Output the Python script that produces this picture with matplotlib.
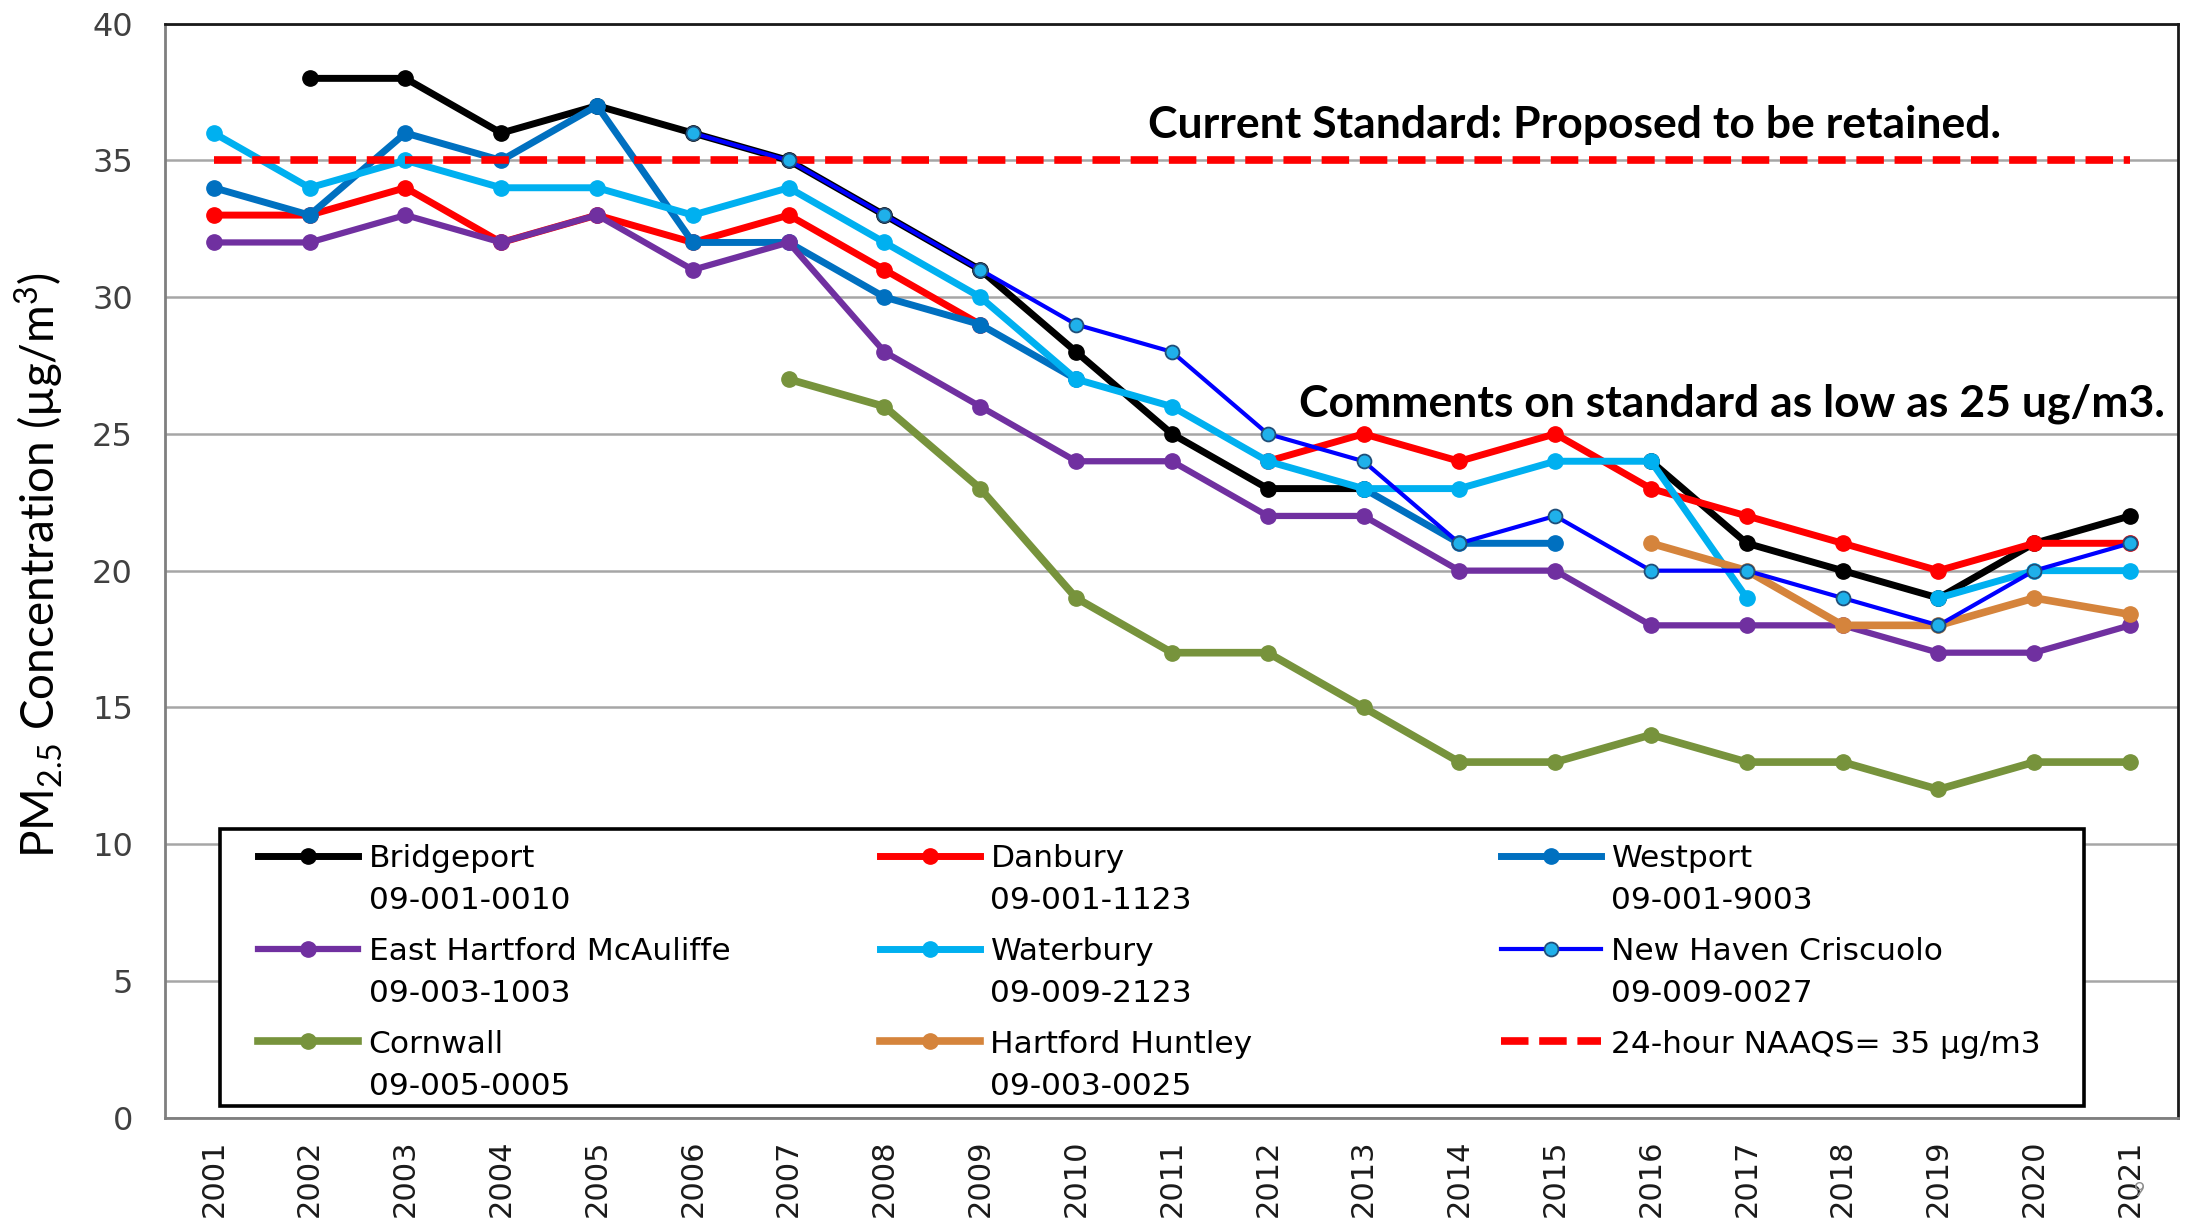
import matplotlib
matplotlib.use("Agg")
import matplotlib.pyplot as plt
import matplotlib.patches as patches
from matplotlib.legend_handler import HandlerLine2D
from matplotlib.lines import Line2D
from matplotlib.transforms import Affine2D
import numpy as np

plt.rcParams["mathtext.default"] = "regular"

nan = np.nan
years = list(range(2001, 2022))

# valeurs (µg/m3), nan = pas de donnée
bridgeport = [nan, 38, 38, 36, 37, 36, 35, 33, 31, 28, 25, 23, 23, nan, nan, 24, 21, 20, 19, 21, 22]
danbury = [33, 33, 34, 32, 33, 32, 33, 31, 29, nan, nan, 24, 25, 24, 25, 23, 22, 21, 20, 21, 21]
westport = [34, 33, 36, 35, 37, 32, 32, 30, 29, 27, nan, nan, 23, 21, 21, nan, nan, nan, nan, nan, nan]
east_hartford = [32, 32, 33, 32, 33, 31, 32, 28, 26, 24, 24, 22, 22, 20, 20, 18, 18, 18, 17, 17, 18]
waterbury = [36, 34, 35, 34, 34, 33, 34, 32, 30, 27, 26, 24, 23, 23, 24, 24, 19, nan, 19, 20, 20]
new_haven = [nan, nan, nan, nan, nan, 36, 35, 33, 31, 29, 28, 25, 24, 21, 22, 20, 20, 19, 18, 20, 21]
cornwall = [nan, nan, nan, nan, nan, nan, 27, 26, 23, 19, 17, 17, 15, 13, 13, 14, 13, 13, 12, 13, 13]
hartford_huntley = [nan] * 15 + [21, 20, 18, 18, 19, 18.4]
naaqs_level = 35

names = ["Bridgeport\n09-001-0010", "Danbury\n09-001-1123", "Westport\n09-001-9003",
         "East Hartford McAuliffe\n09-003-1003", "Waterbury\n09-009-2123",
         "New Haven Criscuolo\n09-009-0027", "Cornwall\n09-005-0005",
         "Hartford Huntley\n09-003-0025", "24-hour NAAQS= 35 µg/m3\n"]


class UpLine(HandlerLine2D):
    """Poignée alignée sur la première ligne du libellé."""
    def __init__(self, dy, **kw):
        super().__init__(**kw)
        self.dy = dy

    def create_artists(self, legend, orig_handle, xdescent, ydescent, width,
                       height, fontsize, trans):
        trans = Affine2D().translate(0, self.dy) + trans
        return super().create_artists(legend, orig_handle, xdescent, ydescent,
                                      width, height, fontsize, trans)


fig = plt.figure(figsize=(21.96, 12.26), dpi=100)
ax = fig.add_axes([0.0751, 0.0884, 0.9167, 0.8923])

lw = 5
ms = 11
h = {}
h["bridgeport"], = ax.plot(years, bridgeport, color="black", lw=lw, marker="o", ms=ms)
h["danbury"], = ax.plot(years, danbury, color="#FF0000", lw=lw, marker="o", ms=ms)
h["westport"], = ax.plot(years, westport, color="#0070C0", lw=lw, marker="o", ms=ms)
h["east"], = ax.plot(years, east_hartford, color="#7030A0", lw=lw - 0.5, marker="o", ms=ms)
h["waterbury"], = ax.plot(years, waterbury, color="#00B0F0", lw=lw, marker="o", ms=ms)
h["cornwall"], = ax.plot(years, cornwall, color="#77933C", lw=lw + 0.5, marker="o", ms=ms)
h["huntley"], = ax.plot(years, hartford_huntley, color="#D5843C", lw=lw + 0.5, marker="o", ms=ms)
h["naaqs"], = ax.plot([years[0], years[-1]], [naaqs_level, naaqs_level], color="#FF0000",
                      lw=5.5, dashes=(3.6, 1.4), zorder=2.2)
h["newhaven"], = ax.plot(years, new_haven, color="#0000FF", lw=3, marker="o", ms=ms - 1,
                         mfc="#1FB0EA", mec="#1F4E79", mew=1.3, zorder=2.4)

ax.set_xlim(2000.49, 2021.5)
ax.set_ylim(0, 40)
ax.set_xticks(years)
ax.set_xticklabels([str(y) for y in years], rotation=90, fontsize=22, color="#1a1a1a")
ax.set_yticks(range(0, 41, 5))
ax.tick_params(axis="y", length=0, pad=23, labelsize=23, labelcolor="#404040")
ax.tick_params(axis="x", length=0, pad=16)
ax.yaxis.grid(True, color="#a6a6a6", lw=1.8)
ax.set_axisbelow(True)
for side in ["left", "bottom"]:
    ax.spines[side].set_color("#7f7f7f")
    ax.spines[side].set_linewidth(2)
for side in ["top", "right"]:
    ax.spines[side].set_color("#1a1a1a")
    ax.spines[side].set_linewidth(2)

ax.set_ylabel(r"PM$_{2.5}$ Concentration (µg/m$^3$)", family="Lato", fontsize=33)
ax.yaxis.set_label_coords(-0.049, 0.505)

ax.text(2010.75, 36.3, "Current Standard: Proposed to be retained.", family="Lato",
        fontweight="bold", fontsize=32, ha="left", va="center")
ax.text(2012.33, 26.1, "Comments on standard as low as 25 ug/m3.", family="Lato",
        fontweight="bold", fontsize=32, ha="left", va="center")

# cadre de légende commun + trois colonnes
fig.add_artist(patches.Rectangle((0.1002, 0.0979), 0.8488, 0.226, transform=fig.transFigure,
                                 facecolor="white", edgecolor="black", lw=2.6, zorder=1))
columns = [(["bridgeport", "east", "cornwall"], [0, 3, 6], 0.1176),
           (["danbury", "waterbury", "huntley"], [1, 4, 7], 0.4008),
           (["westport", "newhaven", "naaqs"], [2, 5, 8], 0.6836)]
for keys, idx, x0 in columns:
    leg = fig.legend([h[k] for k in keys], [names[i] for i in idx], loc="upper left",
                     bbox_to_anchor=(x0, 0.3118), bbox_transform=fig.transFigure,
                     frameon=False, borderpad=0, borderaxespad=0, numpoints=1,
                     handlelength=3.2, handletextpad=0.33, labelspacing=0.69,
                     prop={"family": "DejaVu Sans", "size": 22.5},
                     handler_map={Line2D: UpLine(17.5)})
    for t in leg.get_texts():
        t.set_linespacing(1.58)
    leg.set_zorder(3)

fig.text(2140 / 2196, 1 - 1190 / 1226, "9", color="#8c8c8c", fontsize=14, family="Lato",
         ha="center", va="center")

fig.savefig("out.png", dpi=100)
